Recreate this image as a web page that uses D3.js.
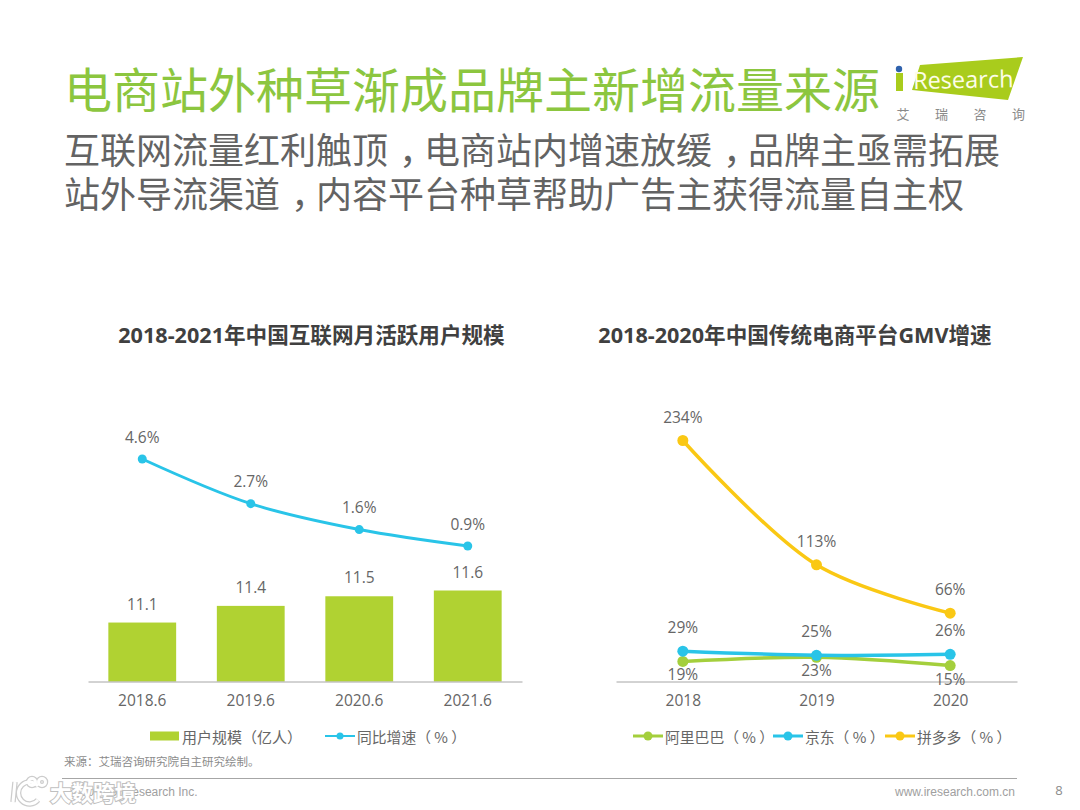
<!DOCTYPE html>
<html lang="zh-CN">
<head>
<meta charset="UTF-8">
<title>电商站外种草渐成品牌主新增流量来源</title>
<script src="https://cdn.jsdelivr.net/npm/d3@7"></script>
<style>
    html, body { margin: 0; padding: 0; background: #fff; }
    svg { display: block; }
    text { font-family: "Open Sans", "Noto Sans CJK SC", sans-serif; }
    .cjk { font-family: "Noto Sans CJK SC", sans-serif; }
</style>
</head>
<body>
<script>
    // left chart
    const months = ["2018.6", "2019.6", "2020.6", "2021.6"]
    const users = [11.1, 11.36, 11.51, 11.6]
    const userGrowth = [4.6, 2.7, 1.6, 0.9]

    // right chart
    const years = ["2018", "2019", "2020"]
    const alibaba = [19, 23, 15]
    const jd = [29, 25, 26]
    const pdd = [234, 113, 66]

    const green = "#b0d232"
    const lineGreen = "#a4cf3c"
    const blue = "#29c4e8"
    const yellow = "#fac814"
    const labelGrey = "#666666"
    const baseY = 681.5

    const svg = d3.select("body").append("svg").attr("width", 1080).attr("height", 810)

    function addText(x, y, str, size, fill, opts = {}) {
        return svg.append("text")
            .attr("x", x).attr("y", y)
            .attr("dominant-baseline", "central")
            .attr("text-anchor", opts.anchor || "start")
            .attr("font-size", size)
            .attr("font-weight", opts.weight || 400)
            .attr("class", opts.cls || null)
            .attr("fill", fill)
            .text(str)
    }

    // the reference centres its commas in the em box, so nudge them over
    function addSubtitle(y, str) {
        const t = addText(64, y, "", 36, "#636363", {cls: "cjk"})
        let after = 0
        str.split(/(，)/).forEach(part => {
            const isComma = part === "，"
            t.append("tspan").attr("dx", isComma ? 11 : after).text(part)
            after = isComma ? -11 : 0
        })
    }

    //Header
    addText(64, 87, "电商站外种草渐成品牌主新增流量来源", 48, "#8cc63f", {cls: "cjk"})
    addSubtitle(148, "互联网流量红利触顶，电商站内增速放缓，品牌主亟需拓展")
    addSubtitle(192, "站外导流渠道，内容平台种草帮助广告主获得流量自主权")

    //Logo
    svg.append("polygon").attr("points", "920,65 1023,57 1008,100 912,90").attr("fill", "#a9cc1c")
    svg.append("rect").attr("x", 896).attr("y", 73).attr("width", 7).attr("height", 18).attr("fill", "#a9cc1c")
    svg.append("circle").attr("cx", 899).attr("cy", 69).attr("r", 3.2).attr("fill", "#2f62ad")
    addText(913, 80, "Research", 23.5, "#fdfde8").attr("transform", "rotate(-1 913 80)")
    ;["艾", "瑞", "咨", "询"].forEach((c, i) => {
        addText(903 + i * 38.5, 113, c, 13, "#8a8a8a", {anchor: "middle", cls: "cjk"})
    })

    //Chart titles
    addText(311.5, 334.5, "2018-2021年中国互联网月活跃用户规模", 21.6, "#404040", {anchor: "middle", weight: 700})
    addText(795, 334.5, "2018-2020年中国传统电商平台GMV增速", 21.6, "#404040", {anchor: "middle", weight: 700})

    //Left chart
    const xLeft = d3.scaleBand().domain(months).range([88, 522]).paddingInner(0.375).paddingOuter(0.1875)
    const yUsers = d3.scaleLinear().domain([10.18, 11.6]).range([baseY, 590.5])
    const yGrowth = d3.scaleLinear().domain([0, 4.6]).range([567.2, 459])
    const midLeft = d => xLeft(d) + xLeft.bandwidth() / 2

    svg.selectAll(".bar").data(users).enter().append("rect")
        .attr("class", "bar")
        .attr("x", (d, i) => xLeft(months[i]))
        .attr("y", d => yUsers(d))
        .attr("width", xLeft.bandwidth())
        .attr("height", d => baseY - yUsers(d))
        .attr("fill", green)

    function styleAxis(g) {
        g.select(".domain").attr("stroke", "#a6a6a6").attr("stroke-width", 1)
        g.selectAll("line").remove()
        g.selectAll("text")
            .attr("font-size", 15.5)
            .attr("fill", labelGrey)
            .style("font-family", '"Open Sans", sans-serif')
    }

    svg.append("g").attr("transform", `translate(0, ${baseY})`)
        .call(d3.axisBottom(xLeft).tickSize(0).tickPadding(13))
        .call(styleAxis)

    users.forEach((d, i) => {
        addText(midLeft(months[i]), yUsers(d) - 19, d.toFixed(1), 15.5, labelGrey, {anchor: "middle"})
    })

    const smooth = d3.curveCatmullRom.alpha(0.5)

    const growthLine = d3.line().x((d, i) => midLeft(months[i])).y(d => yGrowth(d)).curve(smooth)
    svg.append("path").datum(userGrowth)
        .attr("d", growthLine).attr("fill", "none").attr("stroke", blue).attr("stroke-width", 3)
    svg.selectAll(".growth-dot").data(userGrowth).enter().append("circle")
        .attr("class", "growth-dot")
        .attr("cx", (d, i) => midLeft(months[i]))
        .attr("cy", d => yGrowth(d))
        .attr("r", 4.5)
        .attr("fill", blue)
    userGrowth.forEach((d, i) => {
        addText(midLeft(months[i]), yGrowth(d) - 22.5, d.toFixed(1) + "%", 15.5, labelGrey, {anchor: "middle"})
    })

    //Right chart
    const xRight = d3.scalePoint().domain(years).range([616, 1017]).padding(0.5)
    const yRight = d3.scaleLinear().domain([0, 234]).range([681, 440.5])

    svg.append("g").attr("transform", `translate(0, ${baseY})`)
        .call(d3.axisBottom(xRight).tickSize(0).tickPadding(13))
        .call(styleAxis)

    const series = [
        {values: alibaba, colour: lineGreen, dy: 13},
        {values: jd, colour: blue, dy: -24},
        {values: pdd, colour: yellow, dy: -24}
    ]
    const rightLine = d3.line().x((d, i) => xRight(years[i])).y(d => yRight(d)).curve(smooth)

    series.forEach(s => {
        svg.append("path").datum(s.values)
            .attr("d", rightLine).attr("fill", "none").attr("stroke", s.colour).attr("stroke-width", 3.5)
        s.values.forEach((d, i) => {
            svg.append("circle").attr("cx", xRight(years[i])).attr("cy", yRight(d)).attr("r", 5.5).attr("fill", s.colour)
        })
    })
    series.forEach(s => {
        s.values.forEach((d, i) => {
            addText(xRight(years[i]), yRight(d) + s.dy, d + "%", 15.5, labelGrey, {anchor: "middle"})
        })
    })

    //Legends
    const legendY = 736
    svg.append("rect").attr("x", 150).attr("y", legendY - 4.5).attr("width", 29).attr("height", 9).attr("fill", green)
    addText(182, legendY, "用户规模（亿人）", 15, labelGrey, {cls: "cjk"})

    function lineKey(x, colour, r, label, w) {
        svg.append("line").attr("x1", x).attr("x2", x + 30).attr("y1", legendY).attr("y2", legendY)
            .attr("stroke", colour).attr("stroke-width", w)
        svg.append("circle").attr("cx", x + 15).attr("cy", legendY).attr("r", r).attr("fill", colour)
        addText(x + 32, legendY, label, 14.8, labelGrey, {cls: "cjk"})
    }
    lineKey(325, blue, 3.5, "同比增速（ % ）", 2)
    lineKey(633, lineGreen, 4.5, "阿里巴巴（ % ）", 3)
    lineKey(773, blue, 4.5, "京东（ % ）", 3)
    lineKey(885, yellow, 4.5, "拼多多（ % ）", 3)

    //Footer
    addText(64, 761, "来源：艾瑞咨询研究院自主研究绘制。", 11.5, "#8c8c8c", {cls: "cjk"})
    svg.append("line").attr("x1", 62).attr("x2", 1017).attr("y1", 778.5).attr("y2", 778.5)
        .attr("stroke", "#a6a6a6").attr("stroke-width", 1.2)
    addText(72, 792, "©2021.9 iResearch Inc.", 12, "#a0a0a0").style("font-family", '"Liberation Sans", sans-serif')
    addText(895, 792, "www.iresearch.com.cn", 12, "#a0a0a0").style("font-family", '"Liberation Sans", sans-serif')
    addText(1059, 790, "8", 13, "#8c8c8c", {anchor: "middle"})

    //Watermark over the footer
    const mark = svg.append("g").attr("fill", "none").attr("stroke", "#cccccc").attr("stroke-width", 5.5)
    mark.append("path").attr("d", "M15,782 L13,802 M38,786 A11,11 0 1 0 38,800")
    mark.append("circle").attr("cx", 32).attr("cy", 782).attr("r", 3.5)
    mark.append("circle").attr("cx", 42).attr("cy", 782).attr("r", 3.5)
    mark.clone(true).attr("stroke", "#ffffff").attr("stroke-width", 3)
    addText(50, 791, "大数跨境", 21.5, "#ffffff", {cls: "cjk", weight: 700})
        .attr("stroke", "#c0c0c0").attr("stroke-width", 2).attr("paint-order", "stroke")
</script>
</body>
</html>
